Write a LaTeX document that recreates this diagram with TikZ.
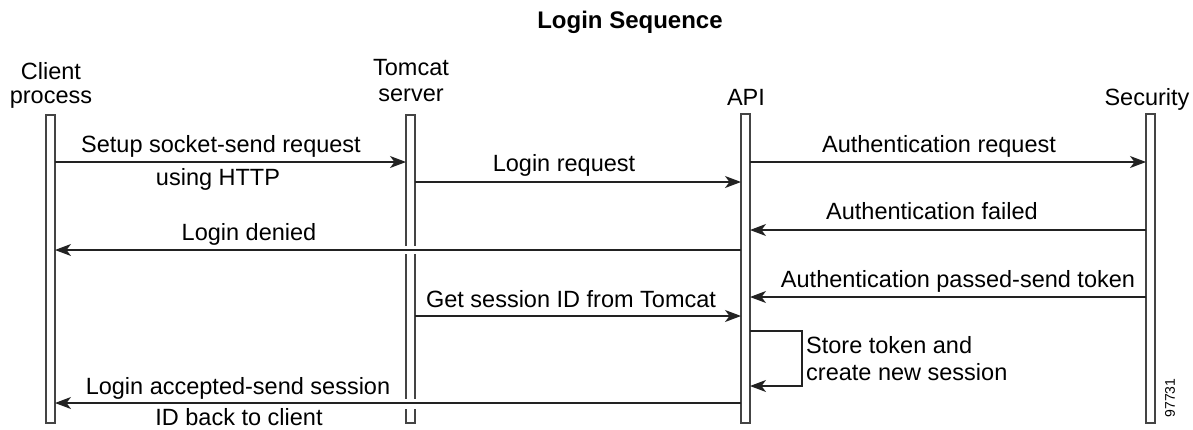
\documentclass[tikz,border=0pt]{standalone}
\usepackage{fontspec}
\setmainfont{Liberation Sans}
\usetikzlibrary{arrows.meta}
\definecolor{ln}{HTML}{222222}
\definecolor{lf}{HTML}{444444}
\tikzset{
  msg/.style={draw=ln, line width=1.2pt, -{Stealth[length=16pt,width=12pt,inset=4.5pt]}},
  life/.style={draw=lf, line width=1.2pt},
  lbl/.style={font=\fontsize{23.5}{27}\selectfont, inner sep=0pt, anchor=base},
  hdr/.style={font=\fontsize{23.5}{27}\selectfont, inner sep=0pt, anchor=base},
}
\begin{document}
\begin{tikzpicture}[x=1pt,y=-1pt]
\useasboundingbox (0,0) rectangle (1193,429);
% title
\node[font=\bfseries\fontsize{24}{28}\selectfont, inner sep=0pt, anchor=base] (title) at (630,28) {Login Sequence};
% headers
\node[hdr] (hc) at (51,79) {Client};
\node[hdr] (hc2) at (51,103) {process};
\node[hdr] (ht) at (411,75) {Tomcat};
\node[hdr] (ht2) at (411,101) {server};
\node[hdr] (ha) at (746,105) {API};
\node[hdr] (hs) at (1147,105) {Security};
% lifelines
\draw[life] (46,115) rectangle (55,423);
\draw[life] (741,114) rectangle (750,423);
\draw[life] (1146,114) rectangle (1155,423);
% tomcat broken lifeline
\draw[life] (406,246) -- (406,115) -- (415,115) -- (415,246);
\draw[life] (406,254) -- (406,399);
\draw[life] (415,254) -- (415,399);
\draw[life] (406,409) -- (406,423) -- (415,423) -- (415,409);
% coordinates
\coordinate (c1) at (55,162);  \coordinate (t1) at (406,162);
\coordinate (t2) at (415,182); \coordinate (a2) at (741,182);
\coordinate (a3) at (750,162); \coordinate (s3) at (1146,162);
\coordinate (s4) at (1146,230); \coordinate (a4) at (750,230);
\coordinate (a5) at (741,250); \coordinate (c5) at (55,250);
\coordinate (s6) at (1146,297); \coordinate (a6) at (750,297);
\coordinate (t7) at (415,316); \coordinate (a7) at (741,316);
\coordinate (a8) at (750,331); \coordinate (a8b) at (750,386);
\coordinate (a9) at (741,403); \coordinate (c9) at (55,403);
% messages
\draw[msg] (c1) -- (t1);
\node[lbl] (l1) at (221,152) {Setup socket-send request};
\node[lbl] (l1b) at (218,185) {using HTTP};
\draw[msg] (t2) -- (a2);
\node[lbl] (l2) at (564,171) {Login request};
\draw[msg] (a3) -- (s3);
\node[lbl] (l3) at (939,152) {Authentication request};
\draw[msg] (s4) -- (a4);
\node[lbl] (l4) at (932,219) {Authentication failed};
\draw[msg] (a5) -- (c5);
\node[lbl] (l5) at (249,240) {Login denied};
\draw[msg] (s6) -- (a6);
\node[lbl] (l6) at (958,287) {Authentication passed-send token};
\draw[msg] (t7) -- (a7);
\node[lbl] (l7) at (571,307) {Get session ID from Tomcat};
\draw[msg] (a8) -- (802,331) -- (802,386) -- (a8b);
\node[lbl, anchor=base west] (l8) at (806,353) {Store token and};
\node[lbl, anchor=base west] (l8b) at (806,380) {create new session};
\draw[msg] (a9) -- (c9);
\node[lbl] (l9) at (238,394) {Login accepted-send session};
\node[lbl] (l9b) at (239,425) {ID back to client};
% figure id
\node[font=\fontsize{14}{16}\selectfont, inner sep=0pt, rotate=90] (fid) at (1170,398) {97731};
\end{tikzpicture}
\end{document}
